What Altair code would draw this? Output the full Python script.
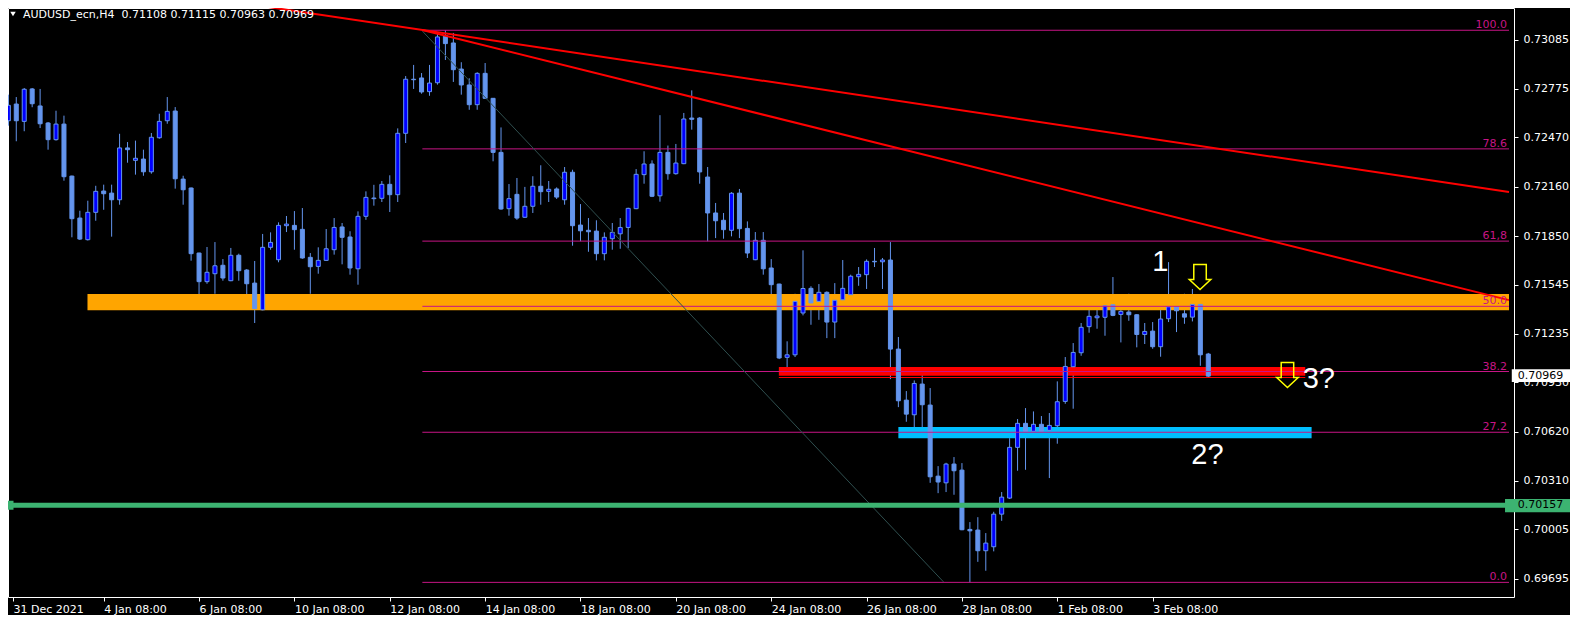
import altair as alt
import pandas as pd

# ---------------- data ----------------
opens = [0.72575, 0.72680, 0.72571, 0.72775, 0.72668, 0.72561, 0.72456, 0.72554, 0.72227, 0.71963,
         0.71827, 0.71999, 0.72133, 0.72120, 0.72078, 0.72404, 0.72326, 0.72334, 0.72254, 0.72468,
         0.72575, 0.72636, 0.72208, 0.72152, 0.71743, 0.71563, 0.71613, 0.71666, 0.71569, 0.71729,
         0.71636, 0.71554, 0.71386, 0.71779, 0.71701, 0.71915, 0.71917, 0.71892, 0.71716, 0.71659,
         0.71697, 0.71764, 0.71907, 0.71844, 0.71644, 0.71974, 0.72085, 0.72087, 0.72175, 0.72110,
         0.72496, 0.72836, 0.72844, 0.72758, 0.72814, 0.73110, 0.73064, 0.72900, 0.72800, 0.72676,
         0.72873, 0.72716, 0.72376, 0.72022, 0.72112, 0.71968, 0.72037, 0.72163, 0.72131, 0.72146,
         0.72078, 0.72251, 0.71919, 0.71886, 0.71881, 0.71739, 0.71833, 0.71864, 0.71904, 0.72022,
         0.72236, 0.72303, 0.72103, 0.72376, 0.72242, 0.72305, 0.72592, 0.72592, 0.72221, 0.71995,
         0.71949, 0.71886, 0.72120, 0.71898, 0.71701, 0.71823, 0.71649, 0.71548, 0.71087, 0.71103,
         0.71366, 0.71521, 0.71439, 0.71496, 0.71309, 0.71449, 0.71481, 0.71594, 0.71607, 0.71691,
         0.71688, 0.71699, 0.71139, 0.70818, 0.70726, 0.70919, 0.70787, 0.70340, 0.70298, 0.70416,
         0.70378, 0.70005, 0.70001, 0.69871, 0.69896, 0.70101, 0.70202, 0.70521, 0.70672, 0.70622,
         0.70666, 0.70628, 0.70657, 0.70810, 0.71028, 0.71116, 0.71280, 0.71336, 0.71339, 0.71418,
         0.71357, 0.71372, 0.71355, 0.71231, 0.71252, 0.71154, 0.71330, 0.71405, 0.71361, 0.71340,
         0.71420, 0.71108]
highs = [0.72739, 0.72724, 0.72781, 0.72781, 0.72775, 0.72567, 0.72638, 0.72607, 0.72230, 0.72009,
         0.72072, 0.72166, 0.72173, 0.72173, 0.72493, 0.72441, 0.72450, 0.72393, 0.72498, 0.72619,
         0.72724, 0.72661, 0.72229, 0.72155, 0.71745, 0.71781, 0.71812, 0.71705, 0.71775, 0.71739,
         0.71642, 0.71693, 0.71863, 0.71873, 0.71936, 0.71976, 0.72007, 0.72026, 0.71743, 0.71779,
         0.71894, 0.71963, 0.71932, 0.71880, 0.72005, 0.72131, 0.72172, 0.72196, 0.72232, 0.72527,
         0.72856, 0.72926, 0.72875, 0.72926, 0.73127, 0.73144, 0.73127, 0.72943, 0.72842, 0.72880,
         0.72938, 0.72718, 0.72533, 0.72177, 0.72215, 0.72159, 0.72226, 0.72295, 0.72196, 0.72156,
         0.72284, 0.72267, 0.72051, 0.71963, 0.71949, 0.71873, 0.71932, 0.71963, 0.72028, 0.72271,
         0.72383, 0.72326, 0.72610, 0.72419, 0.72429, 0.72624, 0.72766, 0.72598, 0.72284, 0.72058,
         0.71995, 0.72126, 0.72146, 0.71942, 0.71875, 0.71875, 0.71705, 0.71550, 0.71188, 0.71487,
         0.71760, 0.71534, 0.71548, 0.71502, 0.71554, 0.71699, 0.71607, 0.71655, 0.71703, 0.71775,
         0.71712, 0.71812, 0.71215, 0.70875, 0.70942, 0.70995, 0.70894, 0.70403, 0.70424, 0.70460,
         0.70422, 0.70051, 0.70082, 0.69982, 0.70116, 0.70240, 0.70579, 0.70699, 0.70768, 0.70747,
         0.70718, 0.70737, 0.70936, 0.71089, 0.71177, 0.71303, 0.71454, 0.71466, 0.71429, 0.71592,
         0.71466, 0.71487, 0.71358, 0.71303, 0.71309, 0.71397, 0.71686, 0.71460, 0.71487, 0.71517,
         0.71422, 0.71115]
lows = [0.72544, 0.72446, 0.72509, 0.72660, 0.72529, 0.72393, 0.72450, 0.72198, 0.71842, 0.71825,
        0.71822, 0.71946, 0.72015, 0.71846, 0.72047, 0.72311, 0.72236, 0.72229, 0.72242, 0.72462,
        0.72556, 0.72148, 0.72047, 0.71695, 0.71456, 0.71550, 0.71487, 0.71569, 0.71566, 0.71569,
        0.71424, 0.71303, 0.71383, 0.71764, 0.71685, 0.71875, 0.71764, 0.71707, 0.71487, 0.71613,
        0.71694, 0.71733, 0.71672, 0.71607, 0.71544, 0.71952, 0.72041, 0.72064, 0.72001, 0.72064,
        0.72435, 0.72775, 0.72745, 0.72732, 0.72802, 0.72957, 0.72819, 0.72739, 0.72644, 0.72644,
        0.72712, 0.72320, 0.72015, 0.71978, 0.71952, 0.71965, 0.71995, 0.72047, 0.72064, 0.72083,
        0.72047, 0.71789, 0.71817, 0.71751, 0.71697, 0.71697, 0.71764, 0.71770, 0.71775, 0.72019,
        0.72179, 0.72095, 0.72066, 0.72204, 0.72236, 0.72302, 0.72519, 0.72179, 0.71817, 0.71837,
        0.71833, 0.71848, 0.71837, 0.71712, 0.71698, 0.71607, 0.71475, 0.71076, 0.70988, 0.71089,
        0.71351, 0.71292, 0.71323, 0.71208, 0.71208, 0.71418, 0.71435, 0.71537, 0.71517, 0.71655,
        0.71517, 0.70950, 0.70774, 0.70682, 0.70625, 0.70622, 0.70298, 0.70233, 0.70240, 0.70223,
        0.70000, 0.69672, 0.69801, 0.69745, 0.69867, 0.70059, 0.70196, 0.70374, 0.70380, 0.70600,
        0.70618, 0.70328, 0.70544, 0.70795, 0.70764, 0.71097, 0.71242, 0.71267, 0.71223, 0.71346,
        0.71181, 0.71317, 0.71150, 0.71171, 0.71141, 0.71091, 0.71309, 0.71246, 0.71298, 0.71313,
        0.71034, 0.70963]
closes = [0.72672, 0.72575, 0.72773, 0.72682, 0.72556, 0.72456, 0.72554, 0.72223, 0.71959, 0.71831,
          0.71999, 0.72131, 0.72116, 0.72078, 0.72404, 0.72393, 0.72339, 0.72254, 0.72471, 0.72571,
          0.72634, 0.72210, 0.72141, 0.71739, 0.71563, 0.71622, 0.71663, 0.71586, 0.71729, 0.71632,
          0.71550, 0.71393, 0.71779, 0.71810, 0.71917, 0.71925, 0.71890, 0.71712, 0.71657, 0.71697,
          0.71770, 0.71904, 0.71842, 0.71649, 0.71974, 0.72093, 0.72089, 0.72175, 0.72110, 0.72496,
          0.72836, 0.72833, 0.72756, 0.72812, 0.73102, 0.73060, 0.72896, 0.72800, 0.72676, 0.72873,
          0.72716, 0.72376, 0.72020, 0.72085, 0.71963, 0.72037, 0.72163, 0.72129, 0.72144, 0.72095,
          0.72251, 0.71915, 0.71883, 0.71877, 0.71739, 0.71842, 0.71873, 0.71904, 0.72024, 0.72238,
          0.72303, 0.72100, 0.72376, 0.72242, 0.72309, 0.72586, 0.72584, 0.72253, 0.71995, 0.71946,
          0.71890, 0.72119, 0.71896, 0.71743, 0.71823, 0.71644, 0.71544, 0.71083, 0.71103, 0.71439,
          0.71520, 0.71429, 0.71496, 0.71309, 0.71446, 0.71521, 0.71597, 0.71609, 0.71691, 0.71688,
          0.71699, 0.71139, 0.70814, 0.70730, 0.70923, 0.70789, 0.70336, 0.70303, 0.70416, 0.70374,
          0.70003, 0.69996, 0.69871, 0.69919, 0.70101, 0.70208, 0.70521, 0.70672, 0.70622, 0.70666,
          0.70622, 0.70659, 0.70808, 0.71030, 0.71118, 0.71276, 0.71345, 0.71347, 0.71412, 0.71351,
          0.71376, 0.71355, 0.71231, 0.71250, 0.71154, 0.71328, 0.71405, 0.71380, 0.71340, 0.71420,
          0.71103, 0.70969]

symbol_name = "AUDUSD_ecn,H4"

X_MIN, X_MAX = 0.5875, 188.84          # visible bar range
tick_bars = [X_MIN, 12, 24, 36, 48, 60, 72, 84, 96, 108, 120, 132, 144]
tick_texts = ["31 Dec 2021", "4 Jan 08:00", "6 Jan 08:00", "10 Jan 08:00", "12 Jan 08:00",
              "14 Jan 08:00", "18 Jan 08:00", "20 Jan 08:00", "24 Jan 08:00", "26 Jan 08:00",
              "28 Jan 08:00", "1 Feb 08:00", "3 Feb 08:00"]
price_ticks = [0.73085, 0.72775, 0.72470, 0.72160, 0.71850, 0.71545, 0.71235,
               0.70930, 0.70620, 0.70310, 0.70005, 0.69695]

fib_names = ["100.0", "78.6", "61,8", "50.0", "38.2", "27.2", "0.0"]
fib_values = [0.73144, 0.72398, 0.71818, 0.71408, 0.70998, 0.70616, 0.69672]
fib_start_bar = 52.1

trend_ids = ["upper", "upper", "lower", "lower"]
trend_bars = [20.0, 188.84, 52.1, 188.84]
trend_prices = [0.73385, 0.72127, 0.73146, 0.71447]

diag_bars = [52.1, 117.7]
diag_prices = [0.73139, 0.69674]

zone_names = ["orange", "red", "red_edge", "cyan"]
zone_start = [9.96, 96.96, 96.96, 112.0]
zone_end = [188.84, 163.2, 163.2, 164.0]
zone_low = [0.71384, 0.70972, 0.70957, 0.70579]
zone_high = [0.71485, 0.71026, 0.70963, 0.70649]

support_level = 0.70157

note_texts = ["1", "2?", "3?"]
note_bars = [144.96, 150.9, 164.9]
note_prices = [0.71628, 0.70418, 0.70894]

arrow_bars = [149.96, 160.96]
arrow_prices = [0.71592, 0.70976]

# ---------------- frames ----------------
xs = alt.Scale(domain=[X_MIN, X_MAX], nice=False, zero=False)
ys = alt.Scale(domain=[0.69580, 0.73284], nice=False, zero=False)

label_expr = ("[" + ",".join(f"'{t}'" for t in tick_texts) + "][indexof(["
              + ",".join(str(b) for b in tick_bars) + "], datum.value)]")

X_AX = alt.Axis(values=tick_bars, labelExpr=label_expr, labelAlign="left",
                labelOverlap=False, labelFlush=False, labelBound=False, tickSize=4,
                labelPadding=2, grid=False, domain=False, title=None)
Y_AX = alt.Axis(orient="right", values=price_ticks, format=".5f", labelOverlap=False,
                labelFlush=False, labelBound=False, tickSize=4, labelPadding=5, grid=False,
                domain=False, title=None)


def X(field):
    return alt.X(field, scale=xs, axis=X_AX)


def Y(field):
    return alt.Y(field, scale=ys, axis=Y_AX)


candles = pd.DataFrame({"bar": list(range(len(opens))), "open": opens, "high": highs,
                        "low": lows, "close": closes})
candles["dir"] = ["up" if c > o else "down" for o, c in zip(opens, closes)]

fib = pd.DataFrame({"name": fib_names, "level": fib_values})
fib["start"] = fib_start_bar
fib["end"] = X_MAX

trend = pd.DataFrame({"id": trend_ids, "bar": trend_bars, "price": trend_prices})
diag = pd.DataFrame({"bar": diag_bars, "price": diag_prices})
zones = pd.DataFrame({"zone": zone_names, "x0": zone_start, "x1": zone_end,
                      "lo": zone_low, "hi": zone_high})
notes = pd.DataFrame({"t": note_texts, "bar": note_bars, "price": note_prices})
arrows = pd.DataFrame({"bar": arrow_bars, "price": arrow_prices})
support = pd.DataFrame({"level": [support_level], "label": [f"{support_level:.5f}"]})
last = pd.DataFrame({"price": [closes[-1]], "label": [f"{closes[-1]:.5f}"]})
header = pd.DataFrame({"t": [f"{symbol_name}\u00a0 {opens[-1]:.5f} {highs[-1]:.5f} "
                             f"{lows[-1]:.5f} {closes[-1]:.5f}"]})

FONT = "DejaVu Sans"
BLUE_LIGHT = "#6495ED"

zone_layer = alt.Chart(zones).mark_rect().encode(
    x=X("x0:Q"), x2="x1:Q", y=Y("lo:Q"), y2="hi:Q",
    color=alt.Color("zone:N", scale=alt.Scale(domain=zone_names,
                    range=["#FFA500", "#FF0000", "#FF0000", "#00BFFF"]), legend=None),
)

wicks = alt.Chart(candles).mark_rule(color=BLUE_LIGHT, strokeWidth=1).encode(
    x=X("bar:Q"), y=Y("low:Q"), y2="high:Q",
)

bodies = alt.Chart(candles).mark_bar(size=4, stroke=BLUE_LIGHT, strokeWidth=1).encode(
    x=X("bar:Q"), y=Y("open:Q"), y2="close:Q",
    fill=alt.Fill("dir:N", scale=alt.Scale(domain=["up", "down"],
                  range=["#0000FF", BLUE_LIGHT]), legend=None),
)

fib_lines = alt.Chart(fib).mark_rule(color="#C71585", strokeWidth=1).encode(
    x=X("start:Q"), x2="end:Q", y=Y("level:Q"),
)
fib_text = alt.Chart(fib).mark_text(align="right", baseline="alphabetic", dx=-2, dy=-2,
                                     color="#C71585", font=FONT, fontSize=11).encode(
    x=X("end:Q"), y=Y("level:Q"), text="name:N",
)

diag_line = alt.Chart(diag).mark_line(color="#2F4F4F", strokeWidth=1).encode(
    x=X("bar:Q"), y=Y("price:Q"),
)

support_line = alt.Chart(support).mark_rule(color="#3CB371", strokeWidth=5).encode(
    y=Y("level:Q"),
)
support_mark = alt.Chart(support).mark_square(color="#3CB371", size=81, opacity=1).encode(
    x=alt.value(1), y=Y("level:Q"),
)

trend_lines = alt.Chart(trend).mark_line(color="#FF0000", strokeWidth=2, clip=True).encode(
    x=X("bar:Q"), y=Y("price:Q"), detail="id:N",
)

note_layer = alt.Chart(notes).mark_text(align="center", baseline="alphabetic", color="#FFFFFF",
                                         font="Liberation Sans", fontSize=29).encode(
    x=X("bar:Q"), y=Y("price:Q"), text="t:N",
)

arrow_shape = "M-0.5,-1L0.5,-1L0.5,0.2L0.86,0.2L0,1L-0.86,0.2L-0.5,0.2Z"
arrow_layer = alt.Chart(arrows).mark_point(shape=arrow_shape, size=625, filled=False,
                                           color="#FFFF00", strokeWidth=1.5, opacity=1).encode(
    x=X("bar:Q"), y=Y("price:Q"),
)

# price boxes on the right-hand scale
support_box = alt.Chart(support).transform_calculate(
    top="datum.level + 0.00040", bottom="datum.level - 0.00044",
    bx0=str(X_MAX - 0.5), bx1=str(X_MAX + 8),
).mark_rect(color="#3CB371").encode(
    x=X("bx0:Q"), x2="bx1:Q", y=Y("bottom:Q"), y2="top:Q",
)
support_label = alt.Chart(support).transform_calculate(
    tx=str(X_MAX + 1.1),
).mark_text(align="left", baseline="middle", color="#000000", font=FONT, fontSize=11).encode(
    x=X("tx:Q"), y=Y("level:Q"), text="label:N",
)
last_box = alt.Chart(last).transform_calculate(
    top="datum.price + 0.00044", bottom="datum.price - 0.00037",
    bx0=str(X_MAX + 0.35), bx1=str(X_MAX + 8),
).mark_rect(color="#FFFFFF").encode(
    x=X("bx0:Q"), x2="bx1:Q", y=Y("bottom:Q"), y2="top:Q",
)
last_label = alt.Chart(last).transform_calculate(
    tx=str(X_MAX + 1.1),
).mark_text(align="left", baseline="middle", color="#000000", font=FONT, fontSize=11).encode(
    x=X("tx:Q"), y=Y("price:Q"), text="label:N",
)

header_text = alt.Chart(header).mark_text(align="left", baseline="alphabetic", color="#FFFFFF",
                                           font=FONT, fontSize=11).encode(
    x=alt.value(15), y=alt.value(10), text="t:N",
)
header_tri = alt.Chart(header).mark_point(shape="triangle-down", filled=True, color="#FFFFFF",
                                          size=30, opacity=1).encode(
    x=alt.value(5), y=alt.value(6),
)

chart = alt.layer(
    wicks, zone_layer, bodies, fib_lines, diag_line, support_line, support_mark,
    trend_lines, fib_text, note_layer, arrow_layer,
    support_box, support_label, last_box, last_label, header_text, header_tri,
).properties(
    width=1506, height=589,
    padding={"left": 0, "top": 0, "right": 56, "bottom": 18},
    autosize=alt.AutoSizeParams(type="none"),
    background="#000000",
).configure_view(
    stroke="#FFFFFF", strokeWidth=1,
).configure_axis(
    labelColor="#FFFFFF", tickColor="#FFFFFF", labelFont=FONT, labelFontSize=11,
)

chart.save("out.html", embed_options={"renderer": "svg", "actions": False})
